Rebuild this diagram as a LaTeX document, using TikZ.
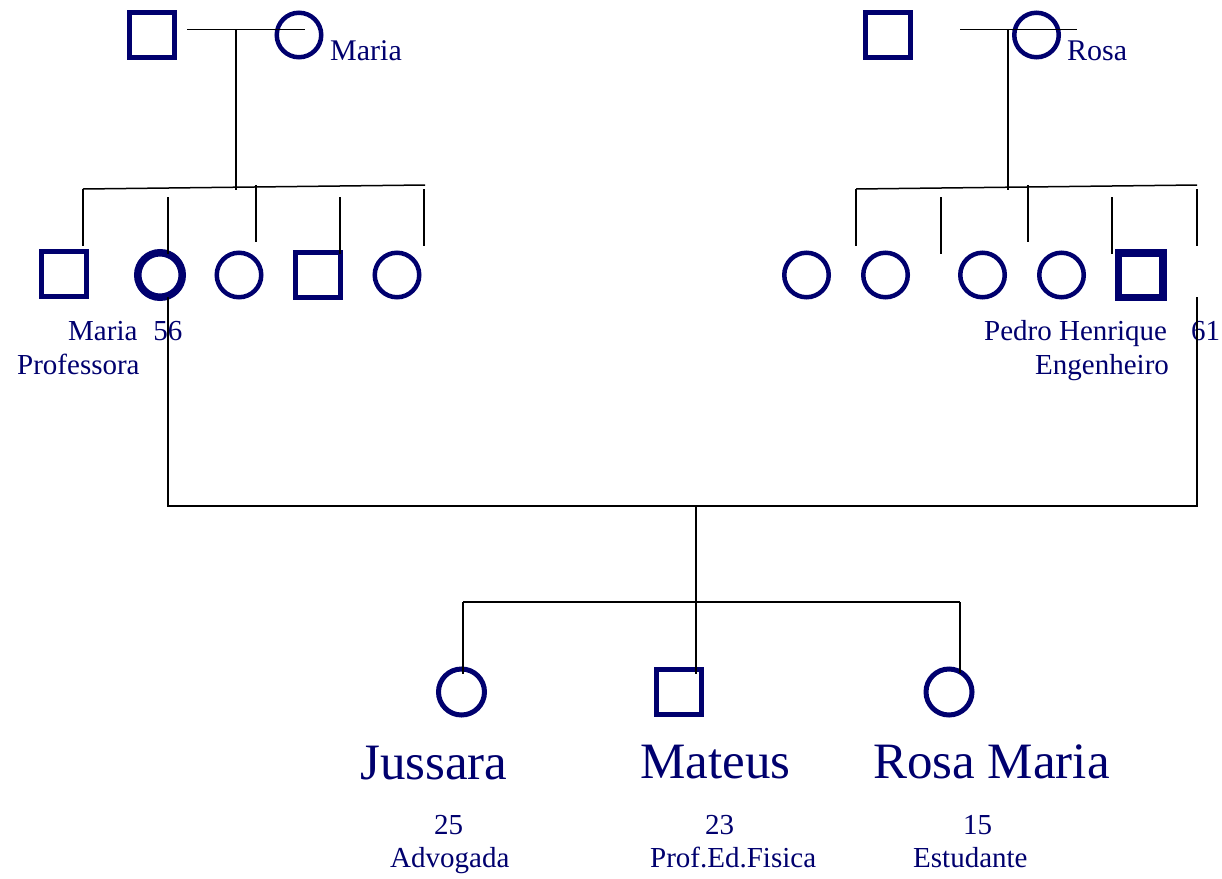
\documentclass[tikz,border=0pt]{standalone}
\usepackage{fontspec}
\setmainfont{Liberation Serif}
\usepackage{tikz}
\usetikzlibrary{positioning}

\definecolor{pedblue}{RGB}{0,0,110}

\begin{document}
\begin{tikzpicture}[x=1pt,y=-1pt,node distance=79pt,
    male/.style={rectangle,draw=pedblue,line width=5pt,minimum size=45pt,inner sep=0pt},
    female/.style={circle,draw=pedblue,line width=4.5pt,minimum size=44.5pt,inner sep=0pt},
    proband/.style={line width=7.5pt,minimum size=44.5pt},
    kin/.style={draw=black,line width=1.5pt},
    lbl/.style={text=pedblue,anchor=base west,inner sep=0pt,font=\fontsize{29}{33}\selectfont},
    bigname/.style={lbl,font=\fontsize{51}{58}\selectfont}]
  \useasboundingbox (0,0) rectangle (1222,878);

  % mother's side
  \node[male] (lgf) at (151.5,35) {};
  \node[female] (lgm) at (299,35) {};
  \node[male] (l1) at (64,274) {};
  \node[female,proband] (l2) at (160,275) {};
  \node[female] (l3) [right of=l2] {};
  \node[male] (l4) [right of=l3] {};
  \node[female] (l5) [right of=l4] {};

  % father's side
  \node[male] (rgf) at (888,35) {};
  \node[female] (rgm) at (1036.5,35) {};
  \node[female] (r1) at (806.5,275) {};
  \node[female] (r2) [right of=r1] {};
  \node[female] (r3) at (982.5,275) {};
  \node[female] (r4) [right of=r3] {};
  \node[male,proband] (r5) [right of=r4] {};

  % children
  \node[female,minimum size=46pt,line width=5pt] (jussara) at (461.5,692) {};
  \node[male] (mateus) at (679,692) {};
  \node[female,minimum size=46pt,line width=5pt] (rosamaria) at (949,692) {};

  % labels
  \node[lbl,font=\fontsize{30}{34}\selectfont] (lgmname) at (330,60) {Maria};
  \node[lbl,font=\fontsize{30}{34}\selectfont] (rgmname) at (1067,60) {Rosa};
  \node[lbl] (l2name) at (68,340) {Maria\hspace{16pt}56};
  \node[lbl] (l2job) at (17,374) {Professora};
  \node[lbl] (r5name) at (984,340) {Pedro Henrique\hspace{24pt}61};
  \node[lbl] (r5job) at (1035,374) {Engenheiro};
  \node[bigname] (jname) at (360,779) {Jussara};
  \node[lbl] (jage) at (434,834) {25};
  \node[lbl] (jjob) at (390,867) {Advogada};
  \node[bigname] (mname) at (640,778) {Mateus};
  \node[lbl] (mage) at (705,834) {23};
  \node[lbl] (mjob) at (650,867) {Prof.Ed.Fisica};
  \node[bigname] (rname) at (873,778) {Rosa Maria};
  \node[lbl] (rage) at (963,834) {15};
  \node[lbl] (rjob) at (913,867) {Estudante};

  % line ends
  \coordinate (lm1) at (187,29.5);
  \coordinate (lm2) at (305,29.5);
  \coordinate (lsib) at (236,29.5);
  \coordinate (lbar) at (236,190);
  \coordinate (lb1) at (83,189);
  \coordinate (lb2) at (425,185);
  \coordinate (rm1) at (960,29.5);
  \coordinate (rm2) at (1077,29.5);
  \coordinate (rsib) at (1008,29.5);
  \coordinate (rbar) at (1008,190);
  \coordinate (rb1) at (856,189);
  \coordinate (rb2) at (1197,185);
  \coordinate (wedL) at (168,506);
  \coordinate (wedR) at (1197,506);
  \coordinate (wedM) at (696,506);
  \coordinate (kids) at (696,602);
  \coordinate (kb1) at (463,602);
  \coordinate (kb2) at (960,602);

  \draw[kin] (lm1) -- (lm2);
  \draw[kin] (lsib) -- (lbar);
  \draw[kin] (lb1) -- (lb2);
  \draw[kin] (lb1) -- (83,246);
  \draw[kin] (168,197) -- (168,254);
  \draw[kin] (256,185) -- (256,242);
  \draw[kin] (340,197) -- (340,254);
  \draw[kin] (424,189) -- (424,246);

  \draw[kin] (rm1) -- (rm2);
  \draw[kin] (rsib) -- (rbar);
  \draw[kin] (rb1) -- (rb2);
  \draw[kin] (rb1) -- (856,246);
  \draw[kin] (941,197) -- (941,254);
  \draw[kin] (1028,185) -- (1028,242);
  \draw[kin] (1112,197) -- (1112,254);
  \draw[kin] (1197,189) -- (1197,246);

  \draw[kin] (168,297) -- (wedL) -- (wedR) -- (1197,297);
  \draw[kin] (wedM) -- (kids);
  \draw[kin] (kb1) -- (kb2);
  \draw[kin] (kb1) -- (463,674);
  \draw[kin] (kids) -- (696,674);
  \draw[kin] (kb2) -- (960,673);
\end{tikzpicture}
\end{document}
